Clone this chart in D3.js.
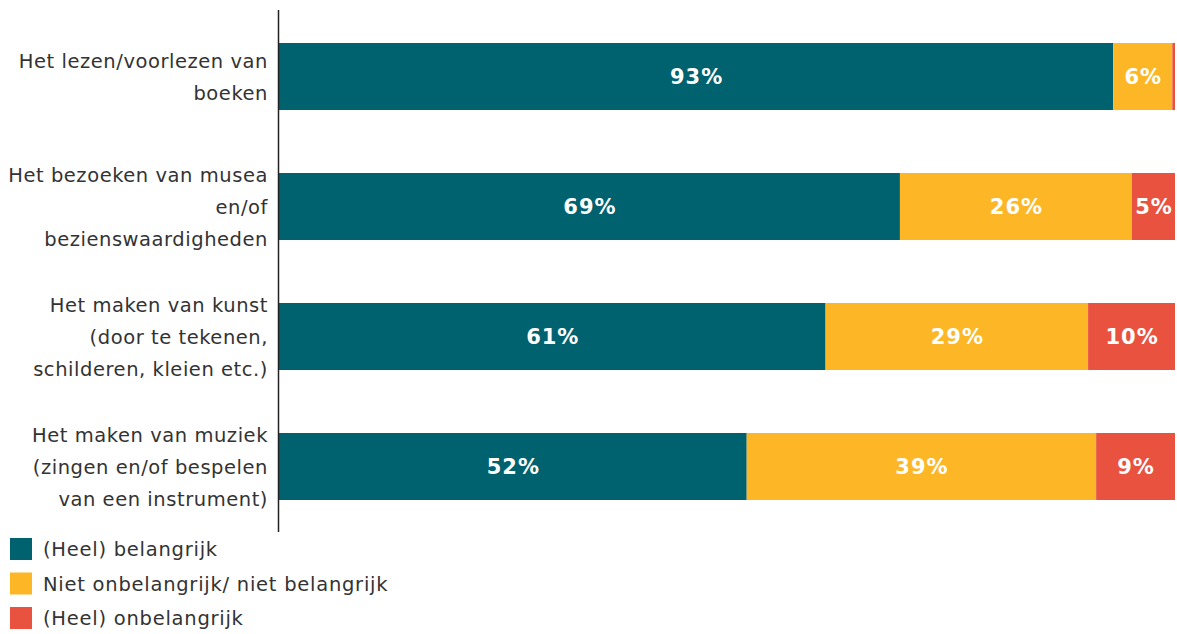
<!DOCTYPE html>
<html>
<head>
<meta charset="utf-8">
<script src="https://cdn.jsdelivr.net/npm/d3@7"></script>
<style>
  html, body { margin: 0; padding: 0; background: #fff; }
  svg { display: block; font-family: "DejaVu Sans", "Noto Sans", sans-serif; }
</style>
</head>
<body>
<svg id="chart" width="1177" height="634"></svg>
<script>
// ---- data ----
const categories = [
  ["Het lezen/voorlezen van", "boeken"],
  ["Het bezoeken van musea", "en/of", "bezienswaardigheden"],
  ["Het maken van kunst", "(door te tekenen,", "schilderen, kleien etc.)"],
  ["Het maken van muziek", "(zingen en/of bespelen", "van een instrument)"]
];
const seriesNames = ["(Heel) belangrijk", "Niet onbelangrijk/ niet belangrijk", "(Heel) onbelangrijk"];
const belangrijk   = [93.1, 69.3, 61.0, 52.2];
const neutraal     = [6.6, 25.9, 29.3, 39.0];
const onbelangrijk = [0.3, 4.8, 9.7, 8.8];
const labelsBelangrijk   = ["93%", "69%", "61%", "52%"];
const labelsNeutraal     = ["6%", "26%", "29%", "39%"];
const labelsOnbelangrijk = ["", "5%", "10%", "9%"];
const colors = ["#00616F", "#FDB726", "#E8523F"];

// ---- layout ----
const svg = d3.select("#chart");
const mLeft = 279, mRight = 1175, mTop = 10, plotBottom = 532;
const seriesValues = [belangrijk, neutraal, onbelangrijk];
const seriesLabels = [labelsBelangrijk, labelsNeutraal, labelsOnbelangrijk];

const x = d3.scaleLinear().domain([0, 100]).range([mLeft, mRight]);
const y = d3.scaleBand().domain(d3.range(categories.length))
  .range([11.5, 531.5]).paddingInner(0.4846).paddingOuter(0.2423);

const rows = categories.map((c, i) => {
  let acc = 0;
  return seriesValues.map((s, k) => {
    const seg = { k, x0: acc, x1: acc + s[i], label: seriesLabels[k][i], row: i };
    acc += s[i];
    return seg;
  });
});

const g = svg.append("g");
rows.forEach((segs, i) => {
  const rg = g.append("g");
  rg.selectAll("rect").data(segs).join("rect")
    .attr("x", d => x(d.x0))
    .attr("y", y(i))
    .attr("width", d => Math.max(0, x(d.x1) - x(d.x0)))
    .attr("height", y.bandwidth())
    .attr("fill", d => colors[d.k]);
  rg.selectAll("text").data(segs.filter(d => d.label)).join("text")
    .attr("x", d => (x(d.x0) + x(d.x1)) / 2 + 0.5)
    .attr("y", y(i) + y.bandwidth() / 2)
    .attr("dy", "0.36em")
    .attr("text-anchor", "middle")
    .attr("fill", "#fff")
    .attr("font-size", 21)
    .attr("font-weight", 600)
    .attr("letter-spacing", 1)
    .text(d => d.label);
});

// category labels
const lineH = 32;
categories.forEach((lines, i) => {
  const cy = y(i) + y.bandwidth() / 2;
  const t = svg.append("text")
    .attr("text-anchor", "end")
    .attr("font-size", 19.5)
    .attr("letter-spacing", 0.55)
    .attr("fill", "#333");
  lines.forEach((ln, j) => {
    t.append("tspan")
      .attr("x", 268)
      .attr("y", cy + (j - (lines.length - 1) / 2) * lineH)
      .attr("dy", "0.36em")
      .text(ln);
  });
});

// axis line
svg.append("line")
  .attr("x1", mLeft - 0.5).attr("x2", mLeft - 0.5)
  .attr("y1", mTop).attr("y2", plotBottom)
  .attr("stroke", "#222").attr("stroke-width", 1.5);

// legend
const legend = svg.append("g");
seriesNames.forEach((n, k) => {
  const ly = 549 + k * 34.5;
  legend.append("rect")
    .attr("x", 10).attr("y", ly - 11)
    .attr("width", 22).attr("height", 22)
    .attr("fill", colors[k]);
  legend.append("text")
    .attr("x", 43).attr("y", ly).attr("dy", "0.36em")
    .attr("font-size", 19.5).attr("letter-spacing", 0.75).attr("fill", "#333")
    .text(n);
});
</script>
</body>
</html>
